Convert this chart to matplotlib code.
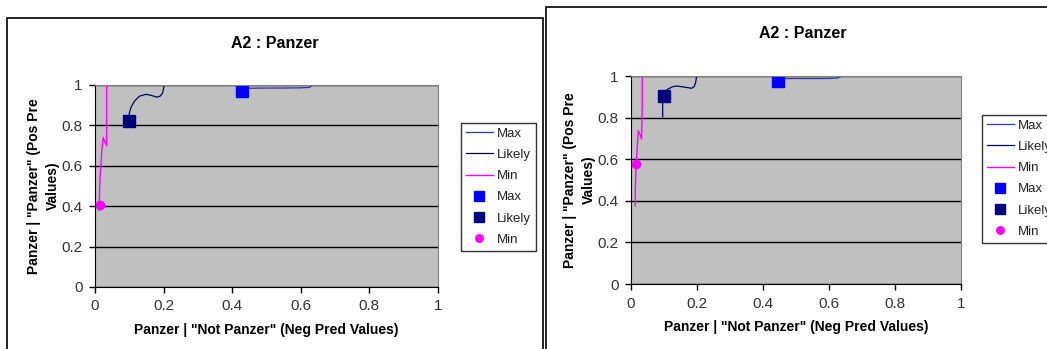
import matplotlib
matplotlib.use("Agg")
import matplotlib.pyplot as plt
from matplotlib.patches import Rectangle

plt.rcParams['font.family'] = ['Liberation Sans', 'DejaVu Sans']

# left chart
l_max_x = [0.428, 0.45, 0.50, 0.55, 0.60, 0.625, 0.635]
l_max_y = [0.975, 0.984, 0.985, 0.985, 0.986, 0.988, 1.0]
l_likely_x = [0.098, 0.10, 0.105, 0.115, 0.13, 0.149, 0.165, 0.18, 0.19, 0.197, 0.202]
l_likely_y = [0.823, 0.86, 0.89, 0.92, 0.945, 0.954, 0.948, 0.94, 0.945, 0.96, 1.0]
l_min_x = [0.012, 0.013, 0.015, 0.018, 0.020, 0.024, 0.028, 0.034, 0.034, 0.034]
l_min_y = [0.38, 0.45, 0.55, 0.62, 0.68, 0.74, 0.72, 0.70, 0.85, 1.0]
l_pts = {"Max": (0.428, 0.970), "Likely": (0.098, 0.823), "Min": (0.015, 0.405)}

# right chart
r_max_x = [0.43, 0.45, 0.50, 0.55, 0.60, 0.625, 0.64]
r_max_y = [0.985, 0.988, 0.988, 0.988, 0.988, 0.99, 1.0]
r_likely_x = [0.096, 0.096, 0.101, 0.11, 0.125, 0.138, 0.16, 0.184, 0.192, 0.196, 0.199]
r_likely_y = [0.804, 0.90, 0.915, 0.935, 0.948, 0.952, 0.947, 0.941, 0.95, 0.97, 1.0]
r_min_x = [0.013, 0.013, 0.015, 0.017, 0.019, 0.022, 0.027, 0.032, 0.034, 0.034]
r_min_y = [0.376, 0.45, 0.55, 0.60, 0.66, 0.737, 0.72, 0.697, 0.85, 1.0]
r_pts = {"Max": (0.446, 0.974), "Likely": (0.101, 0.904), "Min": (0.015, 0.575)}

ticks = [0, 0.2, 0.4, 0.6, 0.8, 1]
tick_labels = ["0", "0.2", "0.4", "0.6", "0.8", "1"]

W, H = 1047, 349
fig = plt.figure(figsize=(W / 100, H / 100), dpi=100)
fig.patch.set_facecolor("white")

# outer chart frames (pixel coords, from top)
for x0, y0, x1, y1 in [(7, 18, 543, 360), (546, 7, 1060, 360)]:
    fig.add_artist(Rectangle((x0 / W, 1 - y1 / H), (x1 - x0) / W, (y1 - y0) / H,
                             transform=fig.transFigure, fill=False,
                             edgecolor="black", linewidth=1.2))


def panel(box, title_xy, legend_xy, mx, my, lx, ly, nx, ny, pts):
    x0, ytop, x1, ybot = box
    ax = fig.add_axes([x0 / W, 1 - ybot / H, (x1 - x0) / W, (ybot - ytop) / H])
    ax.set_facecolor("#c0c0c0")
    ax.plot(mx, my, color="#3333aa", lw=0.9, label="Max")
    ax.plot(lx, ly, color="#000066", lw=0.9, label="Likely")
    ax.plot(nx, ny, color="#ff00ff", lw=1.0, label="Min")
    ax.plot(*pts["Max"], ls="none", marker="s", ms=8.5, color="#0000ff", label="Max")
    ax.plot(*pts["Likely"], ls="none", marker="s", ms=8.5, color="#000080", label="Likely")
    ax.plot(*pts["Min"], ls="none", marker="o", ms=6, color="#ff00ff", label="Min")
    ax.set_xlim(0, 1)
    ax.set_ylim(0, 1)
    ax.set_xticks(ticks, tick_labels)
    ax.set_yticks(ticks, tick_labels)
    ax.tick_params(labelsize=11, color="black", length=4, width=1, pad=5,
                   labelcolor="#333333")
    ax.yaxis.grid(True, color="black", lw=1)
    ax.set_axisbelow(True)
    for s in ["top", "right"]:
        ax.spines[s].set_color("#808080")
    for s in ["left", "bottom"]:
        ax.spines[s].set_color("black")
    ax.set_xlabel('Panzer | "Not Panzer" (Neg Pred Values)', fontsize=10,
                  fontweight="bold", labelpad=7)
    ax.set_ylabel('Panzer | "Panzer" (Pos Pre\nValues)', fontsize=10,
                  fontweight="bold", labelpad=1, linespacing=1.45)
    fig.text(title_xy[0] / W, 1 - title_xy[1] / H, "A2 : Panzer", fontsize=11.5,
             fontweight="bold", ha="center", va="center")
    h, l = ax.get_legend_handles_labels()
    leg = fig.legend(h, l, loc="upper left",
                     bbox_to_anchor=(legend_xy[0] / W, 1 - legend_xy[1] / H),
                     fontsize=9.5, frameon=True, fancybox=False, handlelength=2.1,
                     handletextpad=0.3, labelspacing=0.68, borderpad=0.35,
                     borderaxespad=0, markerscale=0.9)
    leg.get_frame().set_edgecolor("black")
    leg.get_frame().set_linewidth(1)
    for t in leg.get_texts():
        t.set_color("#222222")
    return ax


panel((95, 85, 438, 287), (275, 43), (461, 123), l_max_x, l_max_y,
      l_likely_x, l_likely_y, l_min_x, l_min_y, l_pts)
panel((631, 76, 961, 284), (803, 33), (982, 115), r_max_x, r_max_y,
      r_likely_x, r_likely_y, r_min_x, r_min_y, r_pts)

fig.savefig("out.png", dpi=100)
